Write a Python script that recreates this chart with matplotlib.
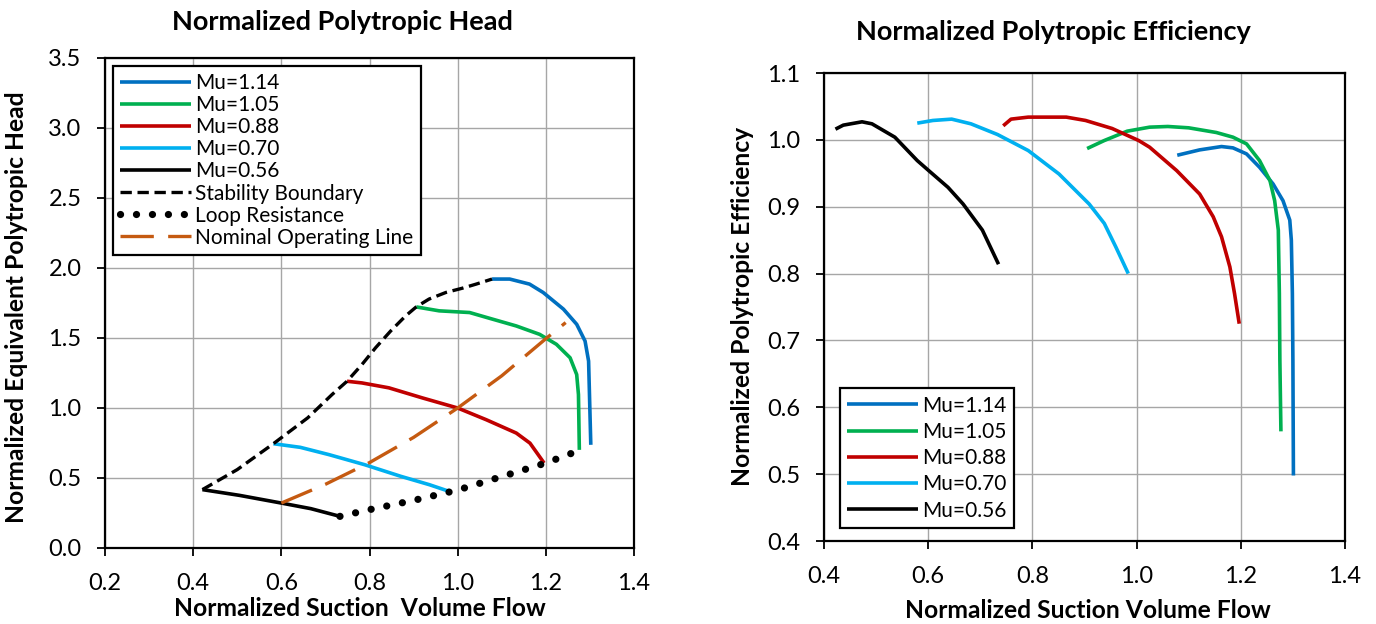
import matplotlib
matplotlib.use("Agg")
import matplotlib.pyplot as plt

plt.rcParams['font.family'] = ['Lato', 'DejaVu Sans']

# ---------------- data ----------------
labels = ["Mu=1.14", "Mu=1.05", "Mu=0.88", "Mu=0.70", "Mu=0.56"]
colors = ["#0070C0", "#00B050", "#C00000", "#00B0F0", "#000000"]

# Normalized polytropic head curves (flow, head)
head_q_114 = [1.078, 1.118, 1.163, 1.194, 1.240, 1.270, 1.289, 1.297, 1.299, 1.302]
head_h_114 = [1.921, 1.921, 1.885, 1.825, 1.706, 1.598, 1.478, 1.335, 1.096, 0.737]
head_q_105 = [0.906, 0.958, 1.027, 1.072, 1.133, 1.186, 1.224, 1.255, 1.270, 1.274, 1.276]
head_h_105 = [1.722, 1.694, 1.682, 1.641, 1.586, 1.526, 1.455, 1.359, 1.239, 1.096, 0.701]
head_q_088 = [0.749, 0.783, 0.844, 0.920, 1.000, 1.065, 1.133, 1.164, 1.183, 1.196]
head_h_088 = [1.191, 1.179, 1.144, 1.072, 1.000, 0.916, 0.821, 0.749, 0.665, 0.607]
head_q_070 = [0.582, 0.643, 0.708, 0.789, 0.871, 0.936, 0.985]
head_h_070 = [0.745, 0.719, 0.667, 0.595, 0.512, 0.452, 0.400]
head_q_056 = [0.421, 0.505, 0.600, 0.667, 0.733]
head_h_056 = [0.417, 0.376, 0.321, 0.281, 0.226]

stab_q = [0.421, 0.500, 0.582, 0.660, 0.715, 0.749, 0.783, 0.814, 0.848, 0.882,
          0.906, 0.935, 0.973, 1.011, 1.042, 1.078]
stab_h = [0.417, 0.560, 0.745, 0.930, 1.096, 1.191, 1.311, 1.431, 1.550, 1.658,
          1.722, 1.778, 1.825, 1.856, 1.885, 1.921]

loop_q = [0.733, 0.800, 0.900, 1.000, 1.100, 1.200, 1.270]
loop_h = [0.226, 0.274, 0.340, 0.414, 0.510, 0.607, 0.690]

nol_q = [0.600, 0.700, 0.800, 0.900, 1.000, 1.100, 1.200, 1.245]
nol_h = [0.321, 0.455, 0.610, 0.790, 1.000, 1.230, 1.495, 1.610]

# Normalized polytropic efficiency curves (flow, efficiency)
eff_q_114 = [1.078, 1.121, 1.163, 1.185, 1.211, 1.236, 1.262, 1.281, 1.294, 1.297,
             1.299, 1.300, 1.301]
eff_e_114 = [0.977, 0.985, 0.990, 0.988, 0.979, 0.959, 0.934, 0.909, 0.880, 0.850,
             0.770, 0.670, 0.498]
eff_q_105 = [0.905, 0.938, 0.982, 1.025, 1.060, 1.100, 1.153, 1.185, 1.211, 1.236,
             1.256, 1.265, 1.272, 1.274, 1.275, 1.277]
eff_e_105 = [0.987, 0.999, 1.013, 1.019, 1.020, 1.018, 1.011, 1.004, 0.994, 0.969,
             0.939, 0.909, 0.865, 0.770, 0.670, 0.564]
eff_q_088 = [0.744, 0.759, 0.792, 0.865, 0.902, 0.953, 1.004, 1.025, 1.077, 1.121,
             1.147, 1.163, 1.179, 1.188, 1.197]
eff_e_088 = [1.021, 1.031, 1.034, 1.034, 1.029, 1.017, 0.999, 0.989, 0.954, 0.919,
             0.885, 0.855, 0.810, 0.770, 0.725]
eff_q_070 = [0.579, 0.609, 0.645, 0.682, 0.733, 0.792, 0.851, 0.909, 0.938, 0.960, 0.984]
eff_e_070 = [1.025, 1.029, 1.031, 1.024, 1.008, 0.984, 0.949, 0.904, 0.875, 0.840, 0.800]
eff_q_056 = [0.422, 0.437, 0.473, 0.492, 0.536, 0.579, 0.601, 0.638, 0.667, 0.704, 0.735]
eff_e_056 = [1.016, 1.022, 1.027, 1.024, 1.004, 0.969, 0.954, 0.929, 0.904, 0.865, 0.814]

head_q = [head_q_114, head_q_105, head_q_088, head_q_070, head_q_056]
head_h = [head_h_114, head_h_105, head_h_088, head_h_070, head_h_056]
eff_q = [eff_q_114, eff_q_105, eff_q_088, eff_q_070, eff_q_056]
eff_e = [eff_e_114, eff_e_105, eff_e_088, eff_e_070, eff_e_056]

x_ticks = [0.2, 0.4, 0.6, 0.8, 1.0, 1.2, 1.4]
head_ticks = [0.0, 0.5, 1.0, 1.5, 2.0, 2.5, 3.0, 3.5]
eff_x_ticks = [0.4, 0.6, 0.8, 1.0, 1.2, 1.4]
eff_ticks = [0.4, 0.5, 0.6, 0.7, 0.8, 0.9, 1.0, 1.1]

# ---------------- figure ----------------
W, H = 1376, 624
fig = plt.figure(figsize=(W / 100, H / 100), dpi=100)


def px_axes(x0, y0, x1, y1):
    return fig.add_axes([x0 / W, 1 - y1 / H, (x1 - x0) / W, (y1 - y0) / H])


def style_axes(ax):
    ax.grid(True, color="#A6A6A6", linewidth=1.0)
    ax.set_axisbelow(True)
    for s in ax.spines.values():
        s.set_linewidth(1.6)
        s.set_color("black")
    ax.tick_params(direction="out", length=6, width=1.3, labelsize=17)
    ax.tick_params(axis="y", pad=11)
    ax.tick_params(axis="x", pad=12)


LW = 2.6
LEG = dict(fontsize=15, handlelength=3.4, handletextpad=0.2,
           fancybox=False, framealpha=1, edgecolor="black", borderpad=0.35,
           borderaxespad=0)

# Left: head
ax1 = px_axes(105, 58, 634, 548)
for q, h, c, lab in zip(head_q, head_h, colors, labels):
    ax1.plot(q, h, color=c, lw=LW, label=lab, solid_capstyle="butt",
             solid_joinstyle="round", zorder=3)
ax1.plot(stab_q, stab_h, color="black", lw=2.4, linestyle=(0, (3.4, 1.7)),
         label="Stability Boundary", zorder=4)
ax1.plot(loop_q, loop_h, color="black", lw=5.2, linestyle=(0, (0.01, 2.2)),
         dash_capstyle="round", label="Loop Resistance", zorder=4)
ax1.plot(nol_q, nol_h, color="#C55A11", lw=2.4, linestyle=(0, (10, 4.3)),
         label="Nominal Operating Line", zorder=4)
ax1.set_xlim(0.2, 1.4)
ax1.set_ylim(0.0, 3.5)
ax1.set_xticks(x_ticks)
ax1.set_yticks(head_ticks)
ax1.set_xticklabels([f"{v:.1f}" for v in x_ticks])
ax1.set_yticklabels([f"{v:.1f}" for v in head_ticks])
style_axes(ax1)
leg1 = ax1.legend(loc="upper left", bbox_to_anchor=(0.015, 0.984), labelspacing=0.1, **LEG)
leg1.get_frame().set_linewidth(1.6)

# Right: efficiency
ax2 = px_axes(824, 73, 1345, 541)
for q, e, c, lab in zip(eff_q, eff_e, colors, labels):
    ax2.plot(q, e, color=c, lw=LW, label=lab, solid_capstyle="butt",
             solid_joinstyle="round", zorder=3)
ax2.set_xlim(0.4, 1.4)
ax2.set_ylim(0.4, 1.1)
ax2.set_xticks(eff_x_ticks)
ax2.set_yticks(eff_ticks)
ax2.set_xticklabels([f"{v:.1f}" for v in eff_x_ticks])
ax2.set_yticklabels([f"{v:.1f}" for v in eff_ticks])
style_axes(ax2)
leg2 = ax2.legend(loc="lower left", bbox_to_anchor=(0.031, 0.028), labelspacing=0.3, **LEG)
leg2.get_frame().set_linewidth(1.6)

# Titles and axis labels
title_kw = dict(fontweight="bold", fontsize=19.5, ha="center", va="center")
label_kw = dict(fontweight="bold", fontsize=17.7, ha="center", va="center")
fig.text(342 / W, 1 - 22 / H, "Normalized Polytropic Head", **title_kw)
fig.text(1053 / W, 1 - 32 / H, "Normalized Polytropic Efficiency", **title_kw)
fig.text(360 / W, 1 - 608 / H, "Normalized Suction  Volume Flow", **label_kw)
fig.text(1088 / W, 1 - 610 / H, "Normalized Suction Volume Flow", **label_kw)
fig.text(17 / W, 1 - 307 / H, "Normalized Equivalent Polytropic Head", rotation=90, **label_kw)
fig.text(742 / W, 1 - 306 / H, "Normalized Polytropic Efficiency", rotation=90, **label_kw)

fig.savefig("out.png", dpi=100, facecolor="white")
